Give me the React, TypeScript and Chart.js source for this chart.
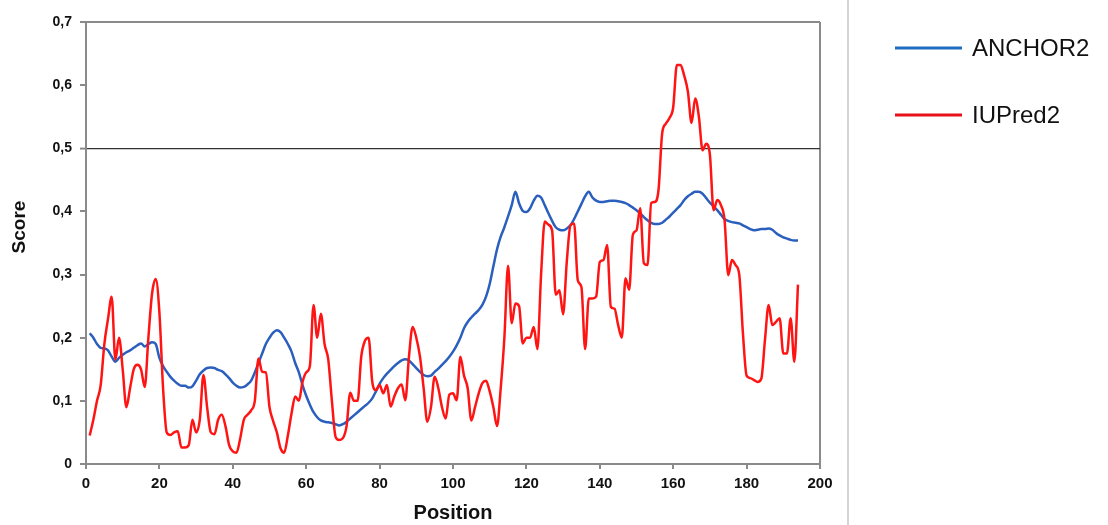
import React, { useEffect, useRef } from 'react';
import { Chart, registerables } from 'chart.js';

Chart.register(...registerables);

// Residue positions 1..194
const anchor2Scores = [
  0.207, 0.2, 0.19, 0.184, 0.183, 0.18, 0.17, 0.162, 0.168, 0.173,
  0.177, 0.18, 0.184, 0.188, 0.191, 0.186, 0.19, 0.193, 0.19, 0.168,
  0.155, 0.146, 0.138, 0.132, 0.127, 0.124, 0.124, 0.121, 0.123, 0.132,
  0.142, 0.148, 0.152, 0.153, 0.152, 0.149, 0.147, 0.142, 0.136, 0.129,
  0.124, 0.121, 0.122, 0.126, 0.132, 0.145, 0.16, 0.175, 0.19, 0.2,
  0.208, 0.212, 0.209, 0.2, 0.19, 0.178, 0.16, 0.145, 0.125, 0.108,
  0.094, 0.082, 0.074, 0.069, 0.067, 0.066, 0.065, 0.063, 0.061, 0.063,
  0.067, 0.072, 0.077, 0.082, 0.087, 0.092, 0.097, 0.104, 0.115, 0.127,
  0.136, 0.143, 0.149, 0.155, 0.16, 0.164, 0.166, 0.164, 0.158, 0.152,
  0.146, 0.141, 0.139, 0.14, 0.146, 0.151, 0.157, 0.163, 0.17, 0.178,
  0.188, 0.2, 0.215, 0.225, 0.232, 0.238, 0.244, 0.252, 0.265, 0.285,
  0.313, 0.34, 0.36, 0.375, 0.392, 0.41, 0.431, 0.413, 0.401, 0.399,
  0.405, 0.417, 0.425, 0.422, 0.41, 0.397, 0.385, 0.375, 0.371, 0.37,
  0.373, 0.378, 0.388, 0.4, 0.412, 0.424, 0.431, 0.422, 0.417, 0.415,
  0.415, 0.416, 0.417, 0.417, 0.416, 0.415, 0.413, 0.41, 0.406, 0.402,
  0.397, 0.391, 0.386, 0.382, 0.38, 0.38, 0.382, 0.387, 0.392, 0.398,
  0.404, 0.41, 0.418, 0.424, 0.428, 0.431, 0.431, 0.428, 0.421, 0.414,
  0.408, 0.402, 0.395, 0.388, 0.385, 0.383, 0.382, 0.381, 0.378, 0.375,
  0.372, 0.37, 0.371, 0.372, 0.372, 0.373, 0.371, 0.366, 0.362, 0.359,
  0.357, 0.355, 0.354, 0.354,
];

const iupred2Scores = [
  0.045, 0.07, 0.1, 0.125, 0.19, 0.23, 0.265, 0.165, 0.2, 0.15,
  0.09, 0.12, 0.15, 0.157, 0.15, 0.122, 0.2, 0.27, 0.293, 0.24,
  0.12, 0.05, 0.046, 0.05, 0.052, 0.026, 0.026, 0.03, 0.07, 0.05,
  0.07, 0.141, 0.09, 0.05, 0.047, 0.07, 0.078, 0.06, 0.03, 0.02,
  0.018, 0.04, 0.07, 0.078, 0.085, 0.1, 0.167, 0.146, 0.145, 0.09,
  0.068, 0.05, 0.025, 0.018, 0.045, 0.08, 0.107, 0.1, 0.13, 0.145,
  0.155, 0.252, 0.2, 0.238, 0.19, 0.166, 0.1, 0.043, 0.038, 0.041,
  0.06, 0.113, 0.1, 0.1, 0.17, 0.195, 0.2, 0.13, 0.117, 0.125,
  0.112, 0.125, 0.091, 0.107, 0.12, 0.126, 0.101, 0.17, 0.217, 0.2,
  0.17, 0.12, 0.067, 0.09, 0.138, 0.12, 0.09, 0.072, 0.11, 0.112,
  0.101, 0.17, 0.14, 0.12, 0.069, 0.09, 0.112, 0.128, 0.132, 0.115,
  0.09, 0.06, 0.12, 0.2, 0.314, 0.223, 0.254, 0.25, 0.191, 0.2,
  0.2, 0.217, 0.182, 0.3, 0.384, 0.379, 0.37, 0.268, 0.275, 0.237,
  0.32, 0.378, 0.381, 0.291, 0.28, 0.182, 0.262, 0.262, 0.265, 0.32,
  0.323, 0.347, 0.249, 0.246, 0.22, 0.2, 0.294, 0.276, 0.363, 0.37,
  0.405, 0.318, 0.315, 0.413, 0.415, 0.434, 0.524, 0.539, 0.548, 0.565,
  0.632, 0.632, 0.615, 0.59, 0.54, 0.579, 0.55, 0.497, 0.507, 0.49,
  0.402, 0.418, 0.41, 0.386, 0.299, 0.323, 0.315, 0.3, 0.207, 0.14,
  0.136, 0.133, 0.13, 0.135, 0.196, 0.252, 0.22, 0.225, 0.231, 0.175,
  0.175, 0.231, 0.162, 0.284,
];

const seriesNames = ['ANCHOR2', 'IUPred2'];
const seriesColors = ['#2b5fbd', '#ff1414'];
const legendColors = ['#1f6cc0', '#e8101a'];
const thresholdScore = 0.5;
const xMin = 0;
const xMax = 200;
const xStep = 20;
const yMin = 0;
const yMax = 0.7;
const yStep = 0.1;
const xTitle = 'Position';
const yTitle = 'Score';

const FONT = "'Liberation Sans', Arial, sans-serif";

const decorPlugin = {
  id: 'decor',
  afterDraw(chart: any) {
    const ctx = chart.ctx;
    ctx.save();
    // y-axis title
    ctx.fillStyle = '#111';
    ctx.font = `bold 19px ${FONT}`;
    ctx.textAlign = 'center';
    ctx.textBaseline = 'middle';
    ctx.translate(20, 227);
    ctx.rotate(-Math.PI / 2);
    ctx.fillText(yTitle, 0, 0);
    ctx.setTransform(1, 0, 0, 1, 0, 0);
    // separator line
    ctx.strokeStyle = '#d4d4d4';
    ctx.lineWidth = 2;
    ctx.beginPath();
    ctx.moveTo(848, 0);
    ctx.lineTo(848, 525);
    ctx.stroke();
    const rows = [48, 115];
    seriesNames.forEach((name, i) => {
      const y = rows[i];
      ctx.strokeStyle = legendColors[i];
      ctx.lineWidth = 3;
      ctx.beginPath();
      ctx.moveTo(895, y);
      ctx.lineTo(962, y);
      ctx.stroke();
      ctx.fillStyle = '#111';
      ctx.font = `24px ${FONT}`;
      ctx.textBaseline = 'middle';
      ctx.textAlign = 'left';
      ctx.fillText(name, 972, y + 1);
    });
    ctx.restore();
  },
};

export default function App() {
  const ref = useRef<HTMLCanvasElement>(null);
  useEffect(() => {
    document.body.style.margin = '0';
    const positions = anchor2Scores.map((_, i) => i + 1);
    const chart = new Chart(ref.current!, {
      type: 'line',
      data: {
        datasets: [
          {
            label: seriesNames[0],
            data: positions.map((p, i) => ({ x: p, y: anchor2Scores[i] })),
            borderColor: seriesColors[0],
            borderWidth: 2.5,
            pointRadius: 0,
            cubicInterpolationMode: 'monotone',
            order: 1,
          },
          {
            label: seriesNames[1],
            data: positions.map((p, i) => ({ x: p, y: iupred2Scores[i] })),
            borderColor: seriesColors[1],
            borderWidth: 2.5,
            pointRadius: 0,
            cubicInterpolationMode: 'monotone',
            order: 0,
          },
        ],
      },
      options: {
        animation: false,
        responsive: true,
        maintainAspectRatio: false,
        layout: { padding: { left: 8, right: 288, top: 22, bottom: 0 } },
        plugins: { legend: { display: false }, tooltip: { enabled: false } },
        scales: {
          x: {
            type: 'linear',
            min: xMin,
            max: xMax,
            ticks: {
              stepSize: xStep,
              color: '#111',
              font: { family: FONT, size: 15, weight: 'bold' },
              padding: 6,
              maxRotation: 0,
            },
            grid: {
              color: (c: any) => (c.tick && c.tick.value === xMax ? '#8a8a8a' : 'rgba(0,0,0,0)'),
              lineWidth: 2,
              drawTicks: true,
              tickLength: 5,
              tickColor: '#8a8a8a',
              tickWidth: 2,
            },
            border: { display: true, color: '#8a8a8a', width: 2 },
            title: {
              display: true,
              text: xTitle,
              color: '#111',
              font: { family: FONT, size: 20, weight: 'bold' },
              padding: { top: 4, bottom: 0 },
            },
            afterFit: (scale: any) => {
              scale.height = 61;
            },
          },
          y: {
            min: yMin,
            max: yMax,
            ticks: {
              stepSize: yStep,
              color: '#111',
              font: { family: FONT, size: 14, weight: 'bold' },
              padding: 8,
              callback: (v: any) => (Number(v) === 0 ? '0' : Number(v).toFixed(1).replace('.', ',')),
            },
            grid: {
              color: (c: any) => {
                const v = c.tick ? c.tick.value : -1;
                if (Math.abs(v - thresholdScore) < 1e-6) return '#333';
                if (Math.abs(v - yMax) < 1e-6) return '#8a8a8a';
                return 'rgba(0,0,0,0)';
              },
              lineWidth: (c: any) => {
                const v = c.tick ? c.tick.value : -1;
                return Math.abs(v - thresholdScore) < 1e-6 ? 1.2 : 2;
              },
              drawTicks: true,
              tickLength: 6,
              tickColor: '#8a8a8a',
              tickWidth: 2,
            },
            border: { display: true, color: '#8a8a8a', width: 2 },
            title: { display: false },
            afterFit: (scale: any) => {
              scale.width = 78;
            },
          },
        },
      },
      plugins: [decorPlugin],
    } as any);
    return () => chart.destroy();
  }, []);
  return (
    <div style={{ width: 1108, height: 525, position: 'relative' }}>
      <canvas ref={ref} />
    </div>
  );
}
